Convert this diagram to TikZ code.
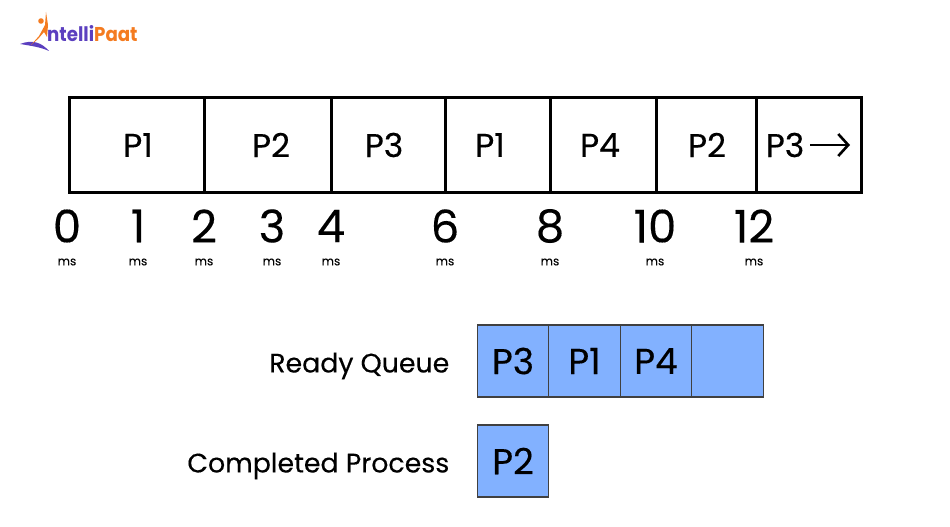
\documentclass[tikz,border=0pt]{standalone}
\usepackage{fontspec}
\setmainfont{Poppins}[FakeBold=0.25]
\newfontfamily\logofont{Poppins}
\usetikzlibrary{arrows.meta,positioning}
\definecolor{cellblue}{HTML}{82B1FF}
\definecolor{logopurple}{HTML}{5B3FBF}
\definecolor{logoorange}{HTML}{F47B20}
\tikzset{
    slot/.style = {draw, line width = 3pt, minimum height = 95pt, inner sep = 0pt},
    slotlabel/.style = {inner sep = 0pt, font = \fontsize{33}{33}\selectfont},
    cell/.style = {draw = black!75, line width = 1.3pt, fill = cellblue, minimum width = 71.5pt, minimum height = 72pt, inner sep = 0pt, font = \fontsize{36}{36}\selectfont},
    tick/.style = {inner sep = 0pt, font = \fontsize{45}{45}\selectfont},
    unit/.style = {inner sep = 0pt, font = \fontsize{12}{12}\selectfont},
    caption/.style = {inner sep = 0pt, anchor = east, font = \fontsize{26.8}{26.8}\selectfont}
}
\begin{document}
\begin{tikzpicture}[
        x = 1pt,
        y = -1pt
        ]
        \useasboundingbox (0, 0) rectangle (950, 527);
        % logo
        \fill[logopurple] (20, 44) .. controls (33, 39) and (42, 43) .. (49, 51) .. controls (40, 47) and (32, 46) .. (20, 44);
        \fill[logoorange] (46, 12) -- (45, 25) -- (39, 36) -- (31, 45) -- (38, 39) -- (44, 32) -- (47, 37) -- (48, 25) -- cycle;
        \fill[logoorange] (41, 21) circle (2.8);
        \node[inner sep = 0pt, anchor = west, xscale = 0.91, text = logopurple, font = \logofont\fontsize{20}{20}\bfseries\selectfont] (logotext) at (47, 34) {ntelli\textcolor{logoorange}{Paat}};
        % time line
        \foreach \name/\xa/\xb/\lab/\xl in {a/69/204/P1/138, b/204/331/P2/271, c/331/445/P3/384, d/445/550/P1/490, e/550/656/P4/600, f/656/756/P2/707, g/756/861/P3/785} {
            \node[slot, minimum width = \xb pt - \xa pt] (\name) at ({(\xa + \xb) / 2 + 0.2}, 144.5) {};
            \node[slotlabel] (lab\name) at (\xl, 145) {\lab};
        }
        \coordinate (arrowstart) at (810, 145);
        \coordinate (arrowend) at (850, 145);
        \draw[-{Straight Barb[length = 10pt, width = 22pt]}, line width = 2.6pt] (arrowstart) -- (arrowend);
        % ticks
        \foreach \i/\t/\xt in {0/0/67, 1/1/138, 2/2/204, 3/3/272, 4/4/331, 5/6/445, 6/8/550, 7/10/655, 8/12/754} {
            \node[tick] (tick\i) at (\xt, 226) {\t};
            \node[unit] (unit\i) at (\xt, 262) {ms};
        }
        % queues
        \node[caption] (readylabel) at (449.5, 366) {Ready Queue};
        \node[caption] (donelabel) at (449.5, 466) {Completed Process};
        \node[cell] (q1) at (513, 361) {P3};
        \node[cell] (q2) at (584.5, 361) {P1};
        \node[cell] (q3) at (656, 361) {P4};
        \node[cell] (q4) at (727.5, 361) {};
        \node[cell] (done) at (513, 461) {P2};
    \end{tikzpicture}
\end{document}
